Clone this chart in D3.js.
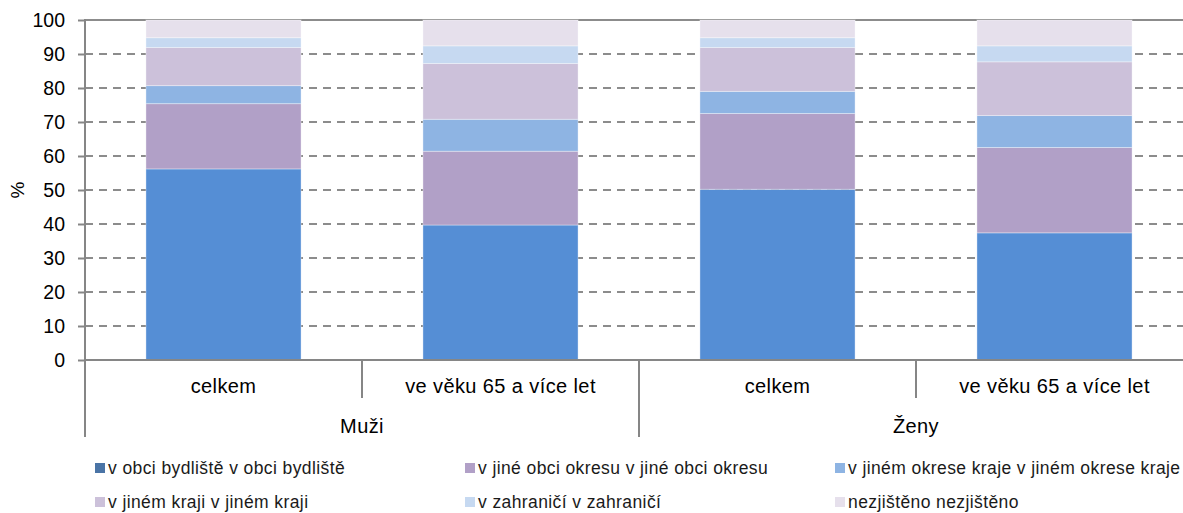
<!DOCTYPE html>
<html>
<head>
<meta charset="utf-8">
<script src="https://cdn.jsdelivr.net/npm/d3@7"></script>
<style>
  body { margin: 0; background: #fff; }
  svg { font-family: "Liberation Sans", Arial, sans-serif; }
</style>
</head>
<body>
<div id="chart"></div>
<script>
const groups = ["Muži", "Ženy"];
const subCategories = ["celkem", "ve věku 65 a více let"];
const seriesNames = [
  "v obci bydliště v obci bydliště",
  "v jiné obci okresu v jiné obci okresu",
  "v jiném okrese kraje v jiném okrese kraje",
  "v jiném kraji v jiném kraji",
  "v zahraničí v zahraničí",
  "nezjištěno nezjištěno"
];
// values per series: Muži celkem, Muži 65+, Ženy celkem, Ženy 65+
const vObci = [56.2, 39.7, 50.2, 37.4];
const vJineObci = [19.2, 21.7, 22.3, 25.1];
const vJinemOkrese = [5.3, 9.4, 6.5, 9.4];
const vJinemKraji = [11.2, 16.4, 12.9, 15.8];
const vZahranici = [2.9, 5.2, 2.9, 4.7];
const nezjisteno = [5.2, 7.6, 5.2, 7.6];
const yTicks = [0, 10, 20, 30, 40, 50, 60, 70, 80, 90, 100];

const colors = ["#558ed5", "#b1a0c7", "#8eb4e3", "#ccc1da", "#c6d9f1", "#e6e0ec"];
const legendColors = ["#4a74a6", "#b1a0c7", "#8eb4e3", "#ccc1da", "#c6d9f1", "#e6e0ec"];

const width = 1183, height = 513;
const plotLeft = 85, plotRight = 1193, plotTop = 20, plotBottom = 360;

const seriesValues = [vObci, vJineObci, vJinemOkrese, vJinemKraji, vZahranici, nezjisteno];
const keys = [];
groups.forEach(g => subCategories.forEach(s => keys.push(g + "|" + s)));
const rows = keys.map((k, i) => {
  const r = { key: k };
  seriesNames.forEach((n, j) => (r[n] = seriesValues[j][i]));
  return r;
});
const stacked = d3.stack().keys(seriesNames)(rows);

const svg = d3
  .select("#chart")
  .append("svg")
  .attr("width", width)
  .attr("height", height);

const x = d3.scaleBand().domain(keys).range([plotLeft, plotRight]).paddingInner(0.44).paddingOuter(0.22);
const y = d3.scaleLinear().domain([0, 100]).range([plotBottom, plotTop]);

// grid
svg
  .append("g")
  .selectAll("line")
  .data(yTicks.filter(t => t > 0 && t < 100))
  .join("line")
  .attr("x1", plotLeft)
  .attr("x2", width)
  .attr("y1", d => y(d))
  .attr("y2", d => y(d))
  .attr("stroke", "#8c8c8c")
  .attr("stroke-width", 2)
  .attr("stroke-dasharray", "8,6");

svg
  .append("line")
  .attr("x1", plotLeft)
  .attr("x2", width)
  .attr("y1", y(100))
  .attr("y2", y(100))
  .attr("stroke", "#8c8c8c")
  .attr("stroke-width", 2);

// bars
svg
  .append("g")
  .selectAll("g")
  .data(stacked)
  .join("g")
  .attr("fill", (d, i) => colors[i])
  .selectAll("rect")
  .data(d => d)
  .join("rect")
  .attr("x", d => x(d.data.key))
  .attr("width", x.bandwidth())
  .attr("y", d => y(d[1]))
  .attr("height", d => y(d[0]) - y(d[1]))
  .attr("stroke", "rgba(255,255,255,0.35)")
  .attr("stroke-width", 1);

// y axis
const yAxis = svg
  .append("g")
  .attr("transform", `translate(${plotLeft},0)`)
  .call(d3.axisLeft(y).tickValues(yTicks).tickSize(7).tickPadding(13));
yAxis.select(".domain").remove();
yAxis.selectAll(".tick line").attr("stroke", "#868686").attr("stroke-width", 2);
yAxis.selectAll(".tick text").attr("font-size", 19.5).attr("fill", "#000").attr("font-family", "Liberation Sans, Arial, sans-serif");

svg
  .append("line")
  .attr("x1", plotLeft)
  .attr("x2", plotLeft)
  .attr("y1", plotTop - 1)
  .attr("y2", 437)
  .attr("stroke", "#868686")
  .attr("stroke-width", 2);

svg
  .append("text")
  .attr("transform", `translate(24,190) rotate(-90)`)
  .attr("text-anchor", "middle")
  .attr("font-size", 19)
  .text("%");

// x axis
svg
  .append("line")
  .attr("x1", plotLeft)
  .attr("x2", width)
  .attr("y1", plotBottom)
  .attr("y2", plotBottom)
  .attr("stroke", "#868686")
  .attr("stroke-width", 2);

const step = x.step();
keys.forEach((k, i) => {
  if (i === 0) return;
  const sx = plotLeft + step * i;
  svg
    .append("line")
    .attr("x1", sx)
    .attr("x2", sx)
    .attr("y1", plotBottom)
    .attr("y2", i % subCategories.length === 0 ? 437 : 398)
    .attr("stroke", "#868686")
    .attr("stroke-width", 2);
});

svg
  .append("g")
  .selectAll("text")
  .data(keys)
  .join("text")
  .attr("x", d => x(d) + x.bandwidth() / 2)
  .attr("y", 393)
  .attr("text-anchor", "middle")
  .attr("font-size", 20)
  .attr("letter-spacing", 0.4)
  .text(d => d.split("|")[1]);

svg
  .append("g")
  .selectAll("text")
  .data(groups)
  .join("text")
  .attr("x", (d, i) => plotLeft + step * subCategories.length * (i + 0.5))
  .attr("y", 433)
  .attr("text-anchor", "middle")
  .attr("font-size", 20)
  .attr("letter-spacing", 0.4)
  .text(d => d);

// legend
const legendCols = [95, 465, 835];
const legendRows = [468, 502];
const legend = svg
  .append("g")
  .selectAll("g")
  .data(seriesNames)
  .join("g")
  .attr("transform", (d, i) => `translate(${legendCols[i % 3]},${legendRows[Math.floor(i / 3)]})`);
legend
  .append("rect")
  .attr("x", 0)
  .attr("y", -5)
  .attr("width", 10)
  .attr("height", 10)
  .attr("fill", (d, i) => legendColors[i]);
legend
  .append("text")
  .attr("x", 13)
  .attr("y", 6)
  .attr("font-size", 17.5)
  .attr("letter-spacing", 0.4)
  .attr("fill", "#1a1a1a")
  .text(d => d);
</script>
</body>
</html>
